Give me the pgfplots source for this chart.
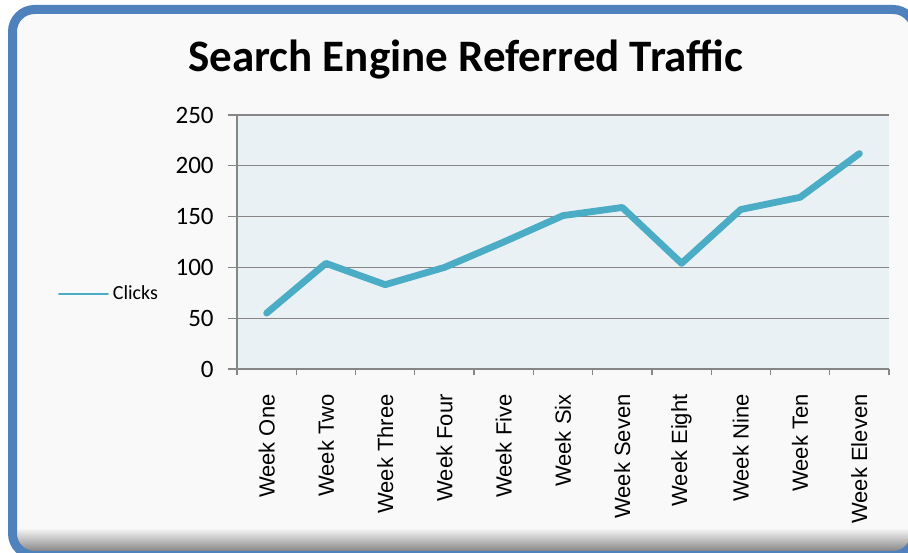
\documentclass[border=0pt]{standalone}
\usepackage{pgfplots}
\pgfplotsset{compat=1.18}
\usepackage{fontspec}
\setmainfont{Carlito}
\newfontfamily\arialf{Liberation Sans}
\definecolor{framebl}{HTML}{4F81BD}
\definecolor{bgc}{HTML}{F9F9F9}
\definecolor{plotbg}{HTML}{E9F1F5}
\definecolor{linec}{HTML}{4BACC6}
\definecolor{gridc}{HTML}{868686}
\begin{document}
\begin{tikzpicture}[x=0.5pt,y=0.5pt]
\useasboundingbox (0,0) rectangle (908,552);
\clip (0,0) rectangle (908,552);
\fill[white] (0,0) rectangle (908,552);
\begin{scope}
\clip[rounded corners=11pt] (12.5,-3.5) rectangle (915,542.5);
\fill[bgc] (0,-10) rectangle (920,560);
\shade[top color=bgc, bottom color=black!45] (0,2) rectangle (920,24);
\end{scope}
\draw[framebl, line width=4.5pt, rounded corners=11pt] (12.5,-3.5) rectangle (915,542.5);
\node[anchor=base, font=\fontsize{22.5}{27}\selectfont\bfseries] at (466,480) {Search Engine Referred Traffic};
\begin{axis}[
  at={(118.5pt,91.5pt)}, anchor=south west,
  scale only axis, width=326pt, height=127pt,
  xmin=-0.5, xmax=10.5, ymin=0, ymax=250,
  axis background/.style={fill=plotbg},
  axis x line*=bottom, axis y line*=left,
  axis line style={-, draw=gridc, line width=0.8pt},
  ytick={0,50,...,250},
  ymajorgrids, grid style={draw=gridc, line width=0.6pt},
  tick align=outside,
  major tick length=4.5pt,
  tick style={draw=gridc, line width=0.6pt},
  xtick={0,...,10},
  xtick style={draw=none},
  xticklabels={Week One,Week Two,Week Three,Week Four,Week Five,Week Six,Week Seven,Week Eight,Week Nine,Week Ten,Week Eleven},
  xticklabel style={rotate=90, anchor=east, font=\arialf\fontsize{11}{13}\selectfont, xshift=-8pt, inner sep=0pt},
  extra x ticks={-0.5,0.5,...,10.5},
  extra x tick labels={},
  extra x tick style={xtick style={draw=gridc, line width=0.6pt}, major tick length=3pt, grid=none},
  yticklabel style={font=\fontsize{12.5}{15}\selectfont, inner sep=0pt, xshift=-7pt},
  /pgf/number format/assume math mode=true,
  legend style={at={(-0.275,0.295)}, anchor=west, draw=none, fill=none, font=\fontsize{10}{12}\selectfont, inner sep=0pt},
  legend image code/.code={\draw[#1, line width=0.9pt] (0pt,0pt) -- (24.5pt,0pt);},
  clip=false,
]
\addplot[color=linec, line width=3.4pt, line cap=round, line join=round] coordinates {
(0,55) (1,104) (2,83) (3,100) (4,125) (5,151) (6,159) (7,104) (8,157) (9,169) (10,212)
};
\addlegendentry{Clicks}
\end{axis}
\end{tikzpicture}
\end{document}
